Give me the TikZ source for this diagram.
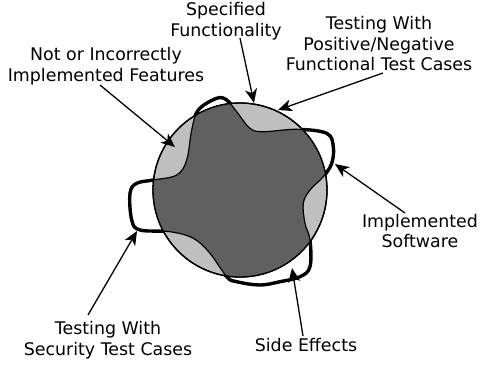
\documentclass[tikz,border=0pt]{standalone}
\usepackage{fontspec}
\setmainfont{DejaVu Sans}
\usetikzlibrary{arrows.meta}
\definecolor{lightg}{RGB}{191,191,191}
\definecolor{darkg}{RGB}{96,96,96}
\tikzset{
  lbl/.style={align=center, font=\fontsize{17.4}{20.5}\selectfont, inner sep=0pt},
  arr/.style={line width=1.3pt, -{Stealth[length=14pt, width=12pt, inset=4pt]}},
}
\begin{document}
\begin{tikzpicture}[x=1pt, y=-1pt]
\useasboundingbox (0,0) rectangle (480,367);
\def\wavy{plot[smooth cycle, tension=0.6] coordinates {
 (198.3,110) (216.7,98.3) (226.7,100) (236.7,111.7) (250,128.3) (263.3,131.7)
 (296.7,129.3) (326.7,133.3) (333.3,146.7) (331.7,163.3) (323.3,176.7)
 (310,190) (303.3,203.3) (305,223.3) (310,240) (310,266.7) (300,276.7)
 (280,281.7) (260,285) (236.7,281.7) (226.7,276.7) (210,253.3) (193.3,238.3)
 (170,231.7) (140,230) (131.7,220) (130,193.3) (136.7,183.3) (153.3,180)
 (176.7,175) (186.7,160) (191.7,130)}}
% thick outline of implemented software
\draw[line width=3.4pt] \wavy;
% specified functionality circle
\node[circle, minimum size=174pt, fill=lightg, draw, line width=1.3pt, inner sep=0pt] (spec) at (240,190) {};
\begin{scope}
  \clip (240,190) circle[radius=86.5pt];
  \fill[darkg] \wavy;
  \draw[line width=1.2pt] \wavy;
\end{scope}
\draw[line width=1.3pt] (spec.center) circle[radius=87pt];

% labels
\node[lbl] (sf) at (226,21) {Specified\\Functionality};
\node[lbl] (pn) at (379,44) {Testing With\\Positive/Negative\\Functional Test Cases};
\node[lbl] (ni) at (106,66) {Not or Incorrectly\\Implemented Features};
\node[lbl] (is) at (420,231) {Implemented\\Software};
\node[lbl] (st) at (108,340) {Testing With\\Security Test Cases};
\node[lbl] (se) at (306,345) {Side Effects};

% arrow endpoints
\coordinate (sfa) at (240,38);  \coordinate (sfb) at (254,103);
\coordinate (pna) at (383,73);  \coordinate (pnb) at (278,110);
\coordinate (nia) at (100,85);  \coordinate (nib) at (175,147);
\coordinate (isa) at (405,213); \coordinate (isb) at (335,164);
\coordinate (sta) at (88,315);  \coordinate (stb) at (137,231);
\coordinate (sea) at (303,336); \coordinate (seb) at (292,268);

\draw[arr] (sfa) -- (sfb);
\draw[arr] (pna) -- (pnb);
\draw[arr] (nia) -- (nib);
\draw[arr] (isa) -- (isb);
\draw[arr] (sta) -- (stb);
\draw[arr] (sea) -- (seb);
\end{tikzpicture}
\end{document}
